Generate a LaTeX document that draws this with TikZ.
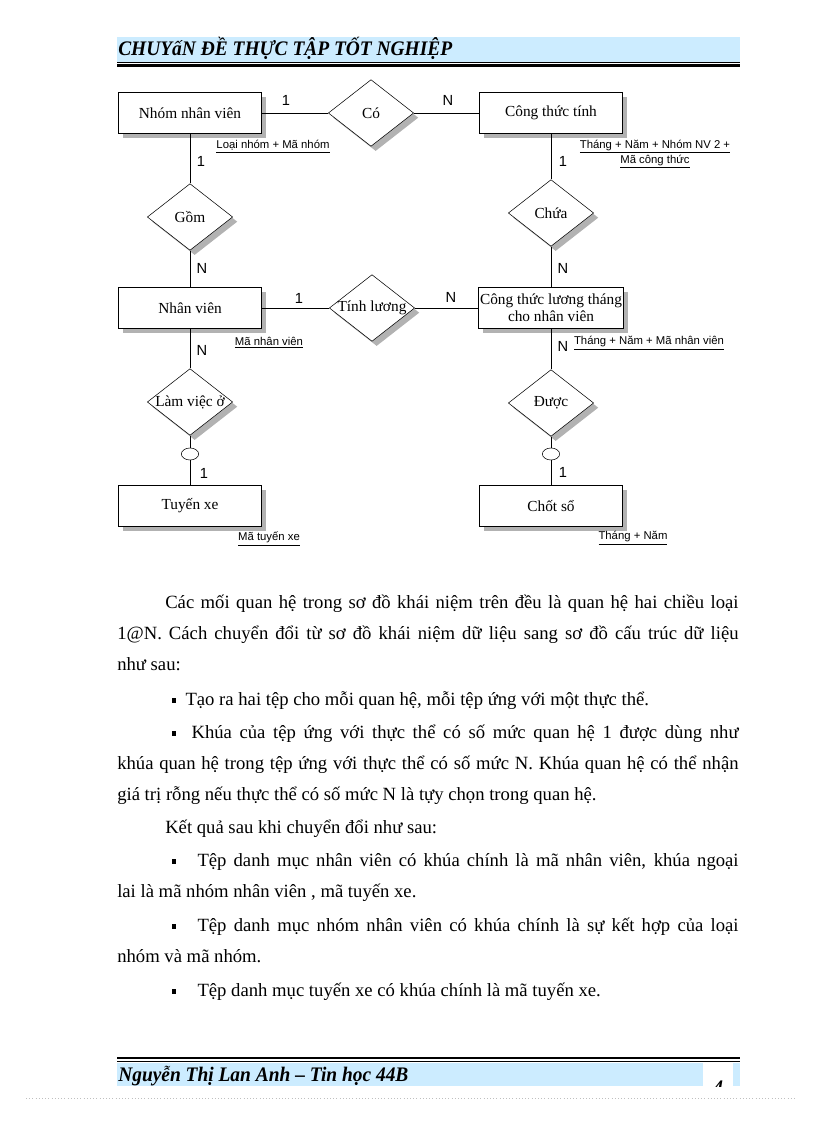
\documentclass[tikz,border=0pt]{standalone}
\usepackage{fontspec}
\setmainfont{Liberation Serif}
\setsansfont{Liberation Sans}
\newfontfamily\headfont[FakeStretch=0.94]{Liberation Serif}
\usetikzlibrary{shapes.geometric, shadows, positioning}
\definecolor{bandblue}{RGB}{204,236,255}
\newcommand{\bul}{\rule[0.28ex]{3.2pt}{3.2pt}}

\begin{document}
\begin{tikzpicture}[x=0.75pt, y=-0.75pt,
  shade box/.style={drop shadow={shadow xshift=3.5pt, shadow yshift=-3.5pt, fill=black!30, opacity=1}},
  entity/.style={draw, fill=white, shade box, align=center, inner sep=1pt,
                 minimum width=107pt, minimum height=30.5pt,
                 font=\fontsize{11.5}{13}\selectfont},
  rel/.style={diamond, draw, fill=white, shade box, inner sep=0pt,
              minimum width=64pt, minimum height=50pt,
              label={[font=\fontsize{11.5}{13}\selectfont]center:#1}},
  opt/.style={ellipse, draw, fill=white, inner sep=0pt, minimum width=13pt, minimum height=9pt},
  card/.style={font=\sffamily\fontsize{11}{12}\selectfont, inner sep=0pt},
  key/.style={font=\sffamily\fontsize{8.5}{11}\selectfont, inner sep=0pt, align=center},
  band/.style={fill=bandblue},
  head/.style={anchor=base west, inner sep=0pt, font=\headfont\bfseries\itshape\fontsize{15.5}{18}\selectfont},
  para/.style={anchor=base west, inner sep=0pt, text width=466pt, align=justify,
               font=\fontsize{14}{23.6}\selectfont}
]
\useasboundingbox (0,0) rectangle (816,1123);

% header
\fill[band] (117,37) rectangle (740,62);
\node[head] (title) at (118,56) {CHUYấN ĐỀ THỰC TẬP TỐT NGHIỆP};
\draw[line width=0.6pt] (117,62.5) -- (740,62.5);
\draw[line width=2.2pt] (117,65.5) -- (740,65.5);

% entities
\node[entity] (nhom) at (190,113) {Nhóm nhân viên};
\node[entity] (ctt) at (551,113) {Công thức tính};
\node[entity] (nv) at (190,308) {Nhân viên};
\node[entity] (ctl) at (551,308) {Công thức lương tháng\\ cho nhân viên};
\node[entity] (tuyen) at (190,506) {Tuyến xe};
\node[entity] (chot) at (551,506) {Chốt sổ};

% relationships
\node[rel=Có] (co) at (371,113) {};
\node[rel=Gồm] (gom) at (190,217) {};
\node[rel=Chứa] (chua) at (551,213) {};
\node[rel=Tính lương] (tinh) at (372,308) {};
\node[rel=Làm việc ở] (lam) at (190,402) {};
\node[rel=Được] (duoc) at (551,403) {};

% optional marks
\node[opt] (opt1) at (190,454) {};
\node[opt] (opt2) at (551,454) {};

% connectors
\draw (nhom) -- (co);
\draw (co) -- (ctt);
\draw (nhom) -- (gom);
\draw (gom) -- (nv);
\draw (ctt) -- (chua);
\draw (chua) -- (ctl);
\draw (nv) -- (tinh);
\draw (tinh) -- (ctl);
\draw (nv) -- (lam);
\draw (lam) -- (opt1);
\draw (opt1) -- (tuyen);
\draw (ctl) -- (duoc);
\draw (duoc) -- (opt2);
\draw (opt2) -- (chot);

% cardinalities
\node[card] (c1) at (286,100) {1};
\node[card] (c2) at (448,100) {N};
\node[card] (c3) at (201,161) {1};
\node[card] (c4) at (563,161) {1};
\node[card] (c5) at (202,268) {N};
\node[card] (c6) at (563,268) {N};
\node[card] (c7) at (299,298) {1};
\node[card] (c8) at (451,297) {N};
\node[card] (c9) at (202,350) {N};
\node[card] (c10) at (563,346) {N};
\node[card] (c11) at (204,473) {1};
\node[card] (c12) at (563,472) {1};

% keys
\node[key] (k1) at (273,147) {\underline{Loại nhóm + Mã nhóm}};
\node[key] (k2) at (655,154) {\underline{Tháng + Năm + Nhóm NV 2 +}\\ \underline{Mã công thức}};
\node[key] (k3) at (269,343) {\underline{Mã nhân viên}};
\node[key] (k4) at (649,343) {\underline{Tháng + Năm + Mã nhân viên}};
\node[key] (k5) at (269,539) {\underline{Mã tuyến xe}};
\node[key] (k6) at (633,538) {\underline{Tháng + Năm}};

% text below
\node[para] (p1) at (117,608) {\hspace*{36pt}Các mối quan hệ trong sơ đồ khái niệm trên đều là quan hệ hai chiều loại\linebreak
1@N. Cách chuyển đổi từ sơ đồ khái niệm dữ liệu sang sơ đồ cấu trúc dữ liệu\linebreak
như sau:};
\node[para] (p2) at (117,705) {\hspace*{41pt}\bul\ \ Tạo ra hai tệp cho mỗi quan hệ, mỗi tệp ứng với một thực thể.};
\node[para] (p3) at (117,738) {\hspace*{41pt}\bul\ \ Khúa của tệp ứng với thực thể có số mức quan hệ 1 được dùng như\linebreak
khúa quan hệ trong tệp ứng với thực thể có số mức N. Khúa quan hệ có thể nhận\linebreak
giá trị rỗng nếu thực thể có số mức N là tựy chọn trong quan hệ.};
\node[para] (p4) at (117,833) {\hspace*{36pt}Kết quả sau khi chuyển đổi như sau:};
\node[para] (p5) at (117,866) {\hspace*{41pt}\bul\hspace*{16pt}Tệp danh mục nhân viên có khúa chính là mã nhân viên, khúa ngoại\linebreak
lai là mã nhóm nhân viên , mã tuyến xe.};
\node[para] (p6) at (117,931) {\hspace*{41pt}\bul\hspace*{16pt}Tệp danh mục nhóm nhân viên có khúa chính là sự kết hợp của loại\linebreak
nhóm và mã nhóm.};
\node[para] (p7) at (117,996) {\hspace*{41pt}\bul\hspace*{16pt}Tệp danh mục tuyến xe có khúa chính là mã tuyến xe.};

% footer
\draw[line width=2.2pt] (117,1058) -- (740,1058);
\draw[line width=0.6pt] (117,1061.5) -- (740,1061.5);
\fill[band] (117,1063) rectangle (703,1086);
\fill[band] (733,1063) rectangle (740,1086);
\node[head] (author) at (118,1081) {Nguyễn Thị Lan Anh – Tin học 44B};
\begin{scope}
  \clip (703,1063) rectangle (733,1086);
  \node[head] (page) at (713,1094) {4};
\end{scope}
\draw[black!25, dotted] (26,1098) -- (795,1098);
\end{tikzpicture}
\end{document}
